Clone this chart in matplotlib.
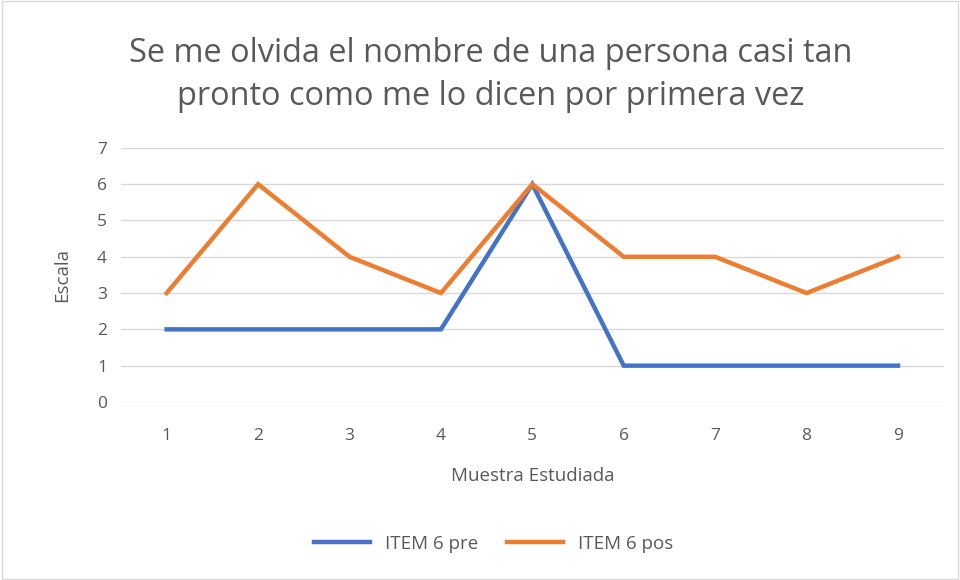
import matplotlib.pyplot as plt

# datos
muestra = [1, 2, 3, 4, 5, 6, 7, 8, 9]
item6_pre = [2, 2, 2, 2, 6, 1, 1, 1, 1]
item6_pos = [3, 6, 4, 3, 6, 4, 4, 3, 4]

plt.rcParams['font.family'] = ['Open Sans', 'DejaVu Sans']

fig = plt.figure(figsize=(9.6, 5.8), dpi=100)
ax = fig.add_axes([0.126, 0.307, 0.857, 0.438])

ax.plot(muestra, item6_pre, color='#4472C4', lw=3.2, label='ITEM 6 pre', solid_joinstyle='miter')
ax.plot(muestra, item6_pos, color='#ED7D31', lw=3.2, label='ITEM 6 pos', solid_joinstyle='miter')

ax.set_xlim(0.5, 9.5)
ax.set_ylim(0, 7)
ax.set_xticks(muestra)
ax.set_yticks(range(0, 8))
ax.grid(axis='y', color='#d9d9d9', lw=1)
ax.set_axisbelow(True)
for s in ax.spines.values():
    s.set_visible(False)
ax.tick_params(length=0, labelsize=12.5, labelcolor='#595959', pad=10)
ax.tick_params(axis='x', pad=19)

ax.set_xlabel('Muestra Estudiada', fontsize=13.5, color='#595959', labelpad=16)
ax.set_ylabel('Escala', fontsize=13.5, color='#595959', labelpad=19)

fig.text(0.511, 0.871, 'Se me olvida el nombre de una persona casi tan\npronto como me lo dicen por primera vez',
         ha='center', va='center', fontsize=23.4, color='#595959', linespacing=1.42)

fig.legend(loc='center', bbox_to_anchor=(0.514, 0.062), ncol=2, frameon=False,
           fontsize=13.5, labelcolor='#595959', handlelength=3, columnspacing=1.5)

fig.patches.append(plt.Rectangle((0.002, 0.002), 0.996, 0.996, transform=fig.transFigure,
                                 fill=False, edgecolor='#d9d9d9', lw=1))

fig.savefig('out.png', dpi=100)
